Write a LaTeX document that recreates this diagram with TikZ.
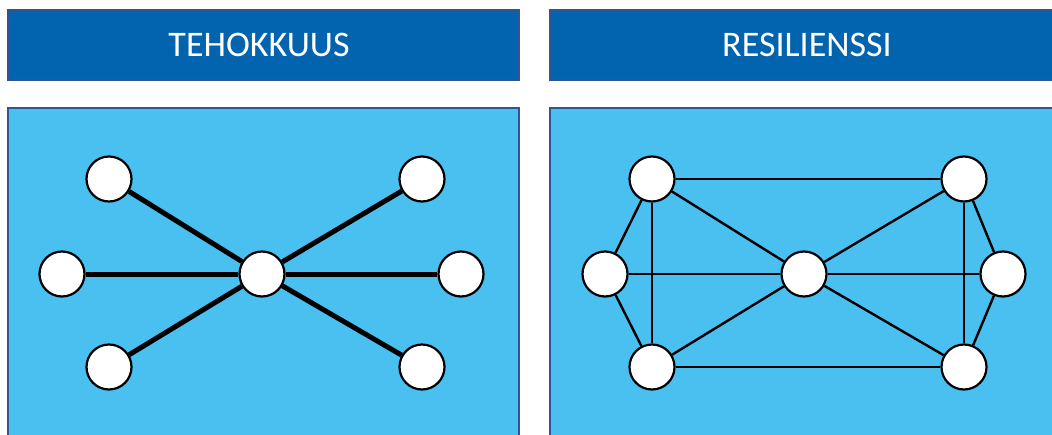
\documentclass[tikz,border=0pt]{standalone}
\usepackage{fontspec}
\setmainfont{Carlito}

\definecolor{headblue}{RGB}{2,99,174}
\definecolor{headline}{RGB}{47,85,151}
\definecolor{boxblue}{RGB}{74,192,240}

\begin{document}
\begin{tikzpicture}[x=1pt,y=-1pt,
  head/.style={draw=headline,line width=1.5pt,fill=headblue},
  body/.style={draw=headline,line width=1.5pt,fill=boxblue},
  title/.style={text=white,font=\fontsize{36}{42}\selectfont},
  vertex/.style={circle,draw,fill=white,line width=2.2pt,minimum size=45pt,inner sep=0pt},
  strong/.style={line width=5pt},
  weak/.style={line width=2.4pt}]

\useasboundingbox (0,0) rectangle (1052,434);

% headers and panels
\draw[head] (8,10) rectangle (519,80);
\draw[head] (550,10) rectangle (1060,80);
\draw[body] (8,108) rectangle (519,445);
\draw[body] (550,108) rectangle (1060,445);

\node[title] (t1) at (259,45) {TEHOKKUUS};
\node[title] (t2) at (807,45) {RESILIENSSI};

% star network
\node[vertex] (s) at (262,274) {};
\node[vertex] (s1) at (109,179) {};
\node[vertex] (s2) at (62,274) {};
\node[vertex] (s3) at (109,367) {};
\node[vertex] (s4) at (422,179) {};
\node[vertex] (s5) at (461,274) {};
\node[vertex] (s6) at (422,367) {};

\foreach \i in {1,...,6}
    \draw[strong] (s) -- (s\i);

% meshed network
\node[vertex] (m) at (804,274) {};
\node[vertex] (m1) at (652,179) {};
\node[vertex] (m2) at (605,274) {};
\node[vertex] (m3) at (652,367) {};
\node[vertex] (m4) at (964,179) {};
\node[vertex] (m5) at (1003,274) {};
\node[vertex] (m6) at (964,367) {};

\foreach \a/\b in {m1/m4,m1/m2,m1/m3,m1/m,m2/m,m2/m3,m3/m,m3/m6,
                   m/m4,m/m5,m/m6,m4/m5,m4/m6,m5/m6}
    \draw[weak] (\a) -- (\b);

\end{tikzpicture}
\end{document}
